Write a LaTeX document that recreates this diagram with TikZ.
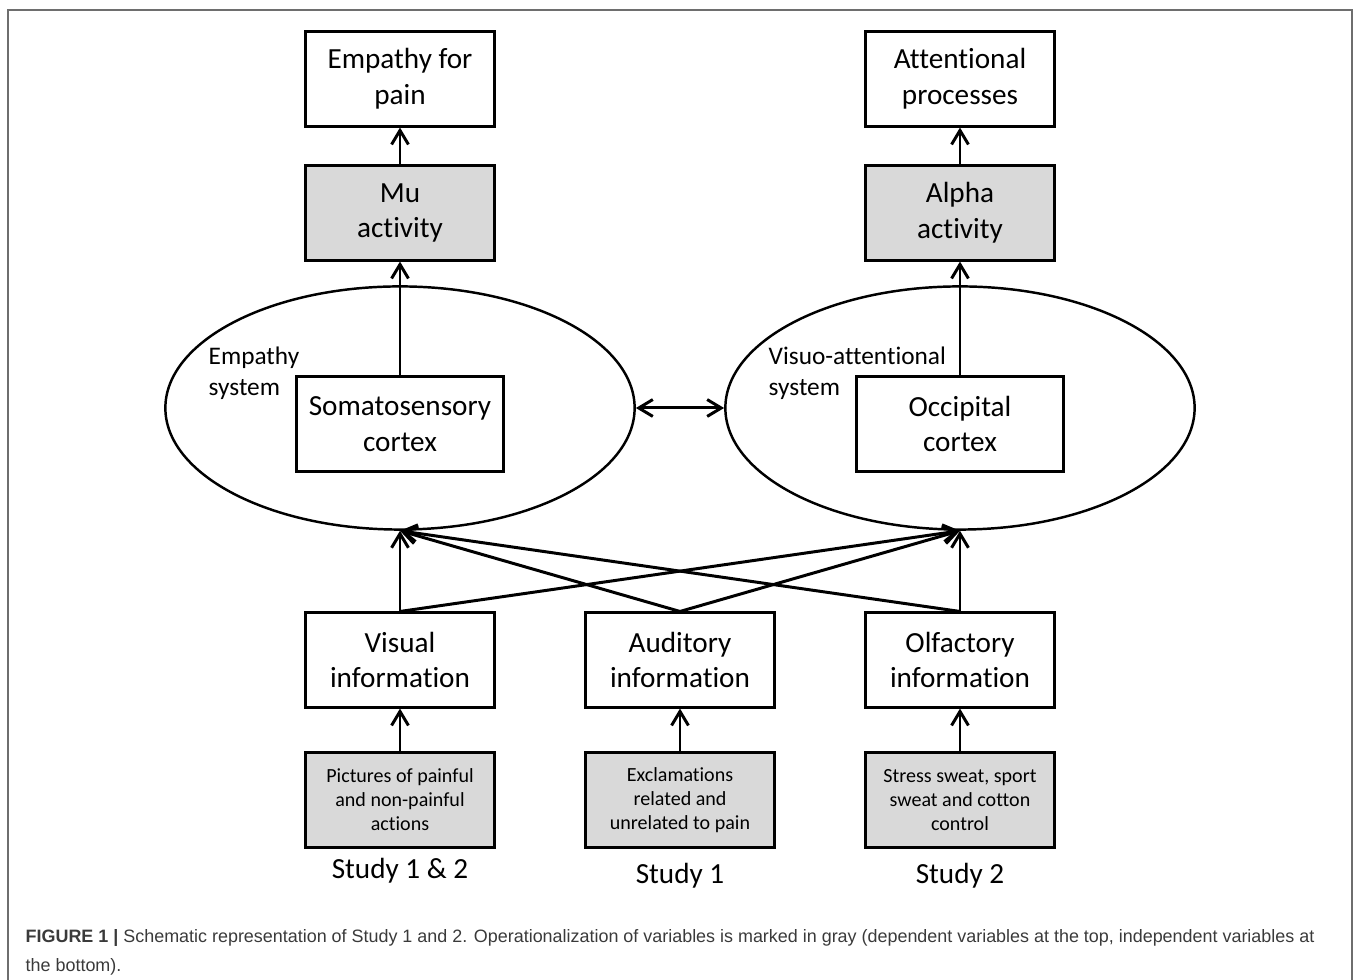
\documentclass[tikz,border=0pt]{standalone}
\usepackage{fontspec}
\setmainfont[Ligatures=NoCommon]{Carlito}
\newfontfamily\capfont{Liberation Sans}
\usetikzlibrary{positioning,shapes.geometric,arrows.meta}

\definecolor{boxgray}{HTML}{D9D9D9}
\definecolor{framegray}{HTML}{6E6E6E}
\definecolor{captext}{HTML}{3A3A3A}

\tikzset{
  box/.style={draw, line width=0.85pt, minimum width=1.88cm, minimum height=0.94cm,
    align=center, inner sep=1pt, font=\fontsize{8.3}{10.2}\selectfont},
  graybox/.style={box, fill=boxgray},
  stimbox/.style={graybox, font=\fontsize{5.7}{6.8}\selectfont},
  system/.style={draw, ellipse, line width=0.7pt, minimum width=4.69cm, minimum height=2.43cm, inner sep=0pt},
  syslabel/.style={anchor=west, align=left, inner sep=0pt, font=\fontsize{7.2}{8.8}\selectfont},
  study/.style={inner sep=0pt, font=\fontsize{8.3}{10}\selectfont},
  arr/.style={line width=0.85pt, -{Straight Barb[length=4pt,width=4.8pt]}},
}

\begin{document}
\begin{tikzpicture}[x=0.01cm, y=-0.01cm]
\useasboundingbox (0,0) rectangle (1356,980);
\draw[framegray, line width=0.45pt] (8,980) -- (8,10) -- (1352,10) -- (1352,980);

% outcomes
\node[box] (emp) at (400,79) {Empathy for\\pain};
\node[graybox] (mu) at (400,213) {Mu\\activity};
\node[box] (att) at (960,79) {Attentional\\processes};
\node[graybox] (alpha) at (960,213) {Alpha\\activity};

% systems
\node[system] (lsys) at (400,408) {};
\node[system] (rsys) at (960,408) {};
\node[box, minimum width=2.06cm] (soma) at (400,424) {Somatosensory\\cortex};
\node[box, minimum width=2.06cm] (occ) at (960,424) {Occipital\\cortex};
\node[syslabel] (lsyslab) at (208,373) {Empathy\\system};
\node[syslabel] (rsyslab) at (768,373) {Visuo-attentional\\system};

% senses
\node[box] (vis) at (400,660) {Visual\\information};
\node[box] (aud) at (680,660) {Auditory\\information};
\node[box] (olf) at (960,660) {Olfactory\\information};

% stimuli
\node[stimbox] (pics) at (400,800) {Pictures of painful\\and non-painful\\actions};
\node[stimbox] (excl) at (680,800) {Exclamations\\related and\\unrelated to pain};
\node[stimbox] (sweat) at (960,800) {Stress sweat, sport\\sweat and cotton\\control};
\node[study] (st12) at (400,871) {Study 1 \& 2};
\node[study] (st1) at (680,876) {Study 1};
\node[study] (st2) at (960,876) {Study 2};

% arrows
\draw[arr] (soma) -- (mu);
\draw[arr] (mu) -- (emp);
\draw[arr] (occ) -- (alpha);
\draw[arr] (alpha) -- (att);
\draw[arr, {Straight Barb[length=4pt,width=4.8pt]}-{Straight Barb[length=4pt,width=4.8pt]}] (lsys) -- (rsys);
\foreach \src in {vis,aud,olf} {
  \draw[arr] (\src.north) -- (lsys.south);
  \draw[arr] (\src.north) -- (rsys.south);
}
\draw[arr] (pics) -- (vis);
\draw[arr] (excl) -- (aud);
\draw[arr] (sweat) -- (olf);

% caption
\node[anchor=north west, align=left, inner sep=0pt, text=captext,
  font=\capfont\fontsize{5.1}{8.3}\selectfont] (cap) at (25,929)
  {\textbf{FIGURE 1 |} Schematic representation of Study 1 and 2. Operationalization of variables is marked in gray (dependent variables at the top, independent variables at\\the bottom).};
\end{tikzpicture}
\end{document}
